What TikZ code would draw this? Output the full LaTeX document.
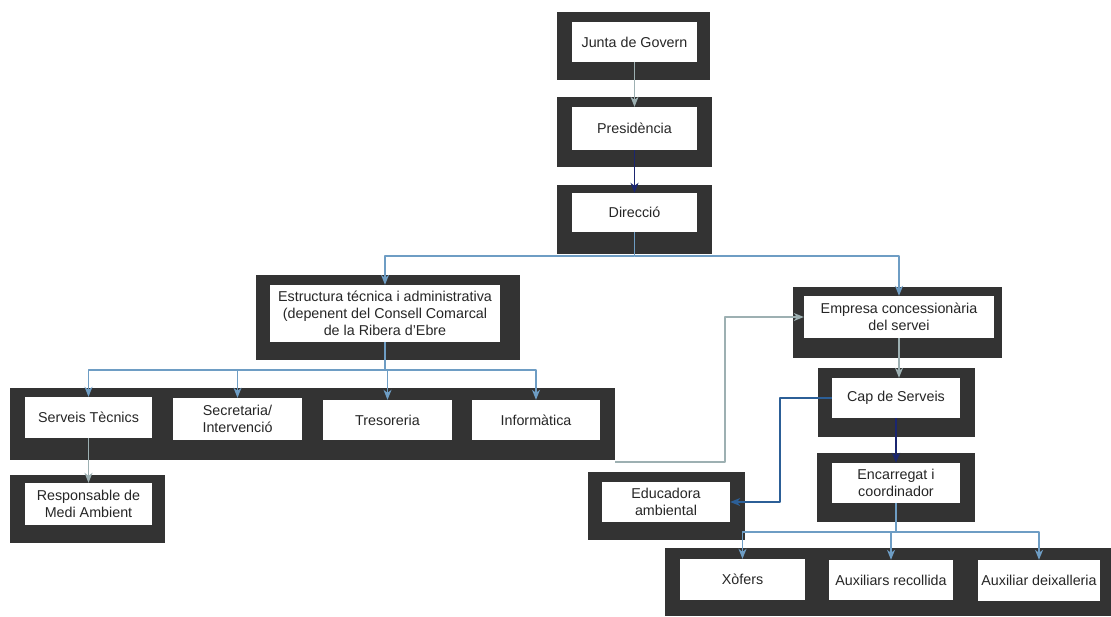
\documentclass[tikz,border=0pt]{standalone}
\usepackage{fontspec}
\setmainfont{Liberation Sans}
\usetikzlibrary{arrows.meta}
\definecolor{marc}{HTML}{333333}
\definecolor{blaucel}{HTML}{6E9DC4}
\definecolor{blaufosc}{HTML}{1B2670}
\definecolor{blaumig}{HTML}{2C5F97}
\definecolor{gristeal}{HTML}{9DB0B2}
\begin{document}
\begin{tikzpicture}[x=1pt, y=-1pt, line join=round, >={Stealth[length=10pt,width=8pt,inset=3pt]},
  caixa/.style={fill=white, inner sep=1pt, align=center, text=black!85,
    font=\fontsize{14.3}{17}\selectfont, minimum width=#1, minimum height=40pt},
  caixa/.default=128pt,
  fletxa/.style={->, line width=1.2pt, draw=blaucel},
  fletxafosca/.style={->, line width=1.2pt, draw=blaufosc},
  fletxagris/.style={->, line width=1.2pt, draw=gristeal}]
\useasboundingbox (0,0) rectangle (1111,616);
% marcs foscos
\fill[marc] (557,12) rectangle (710,80);
\fill[marc] (557,97) rectangle (712,167);
\fill[marc] (557,185) rectangle (712,254);
\fill[marc] (256,275) rectangle (520,360);
\fill[marc] (10,388) rectangle (615,460);
\fill[marc] (10,475) rectangle (165,543);
\fill[marc] (793,287) rectangle (1002,358);
\fill[marc] (818,368) rectangle (975,437);
\fill[marc] (817,453) rectangle (975,522);
\fill[marc] (588,472) rectangle (745,540);
\fill[marc] (665,548) rectangle (1111,616);
% caixes
\node[caixa=125pt] (junta) at (634.5,42) {Junta de Govern};
\node[caixa=125pt, minimum height=43pt] (pres) at (634.5,128.5) {Presidència};
\node[caixa=125pt, minimum height=39pt] (dir) at (634.5,212.5) {Direcció};
\node[caixa=230pt, minimum height=57pt] (estr) at (385,313.5) {Estructura técnica i administrativa\\(depenent del Consell Comarcal\\de la Ribera d'Ebre};
\node[caixa=127pt, minimum height=41pt] (serv) at (88.5,417.5) {Serveis Tècnics};
\node[caixa=129pt, minimum height=42pt] (secr) at (237.5,419) {Secretaria/\\Intervenció};
\node[caixa=129pt] (tres) at (387.5,420) {Tresoreria};
\node[caixa=128pt] (info) at (536,420) {Informàtica};
\node[caixa=127pt, minimum height=42pt] (resp) at (88.5,504) {Responsable de\\Medi Ambient};
\node[caixa=190pt, minimum height=42pt] (empr) at (899,317) {Empresa concessionària\\del servei};
\node[caixa] (cap) at (896,398) {Cap de Serveis};
\node[caixa] (enc) at (896,483) {Encarregat i\\coordinador};
\node[caixa] (educ) at (666,502) {Educadora\\ambiental};
\node[caixa=125pt, minimum height=41pt] (xof) at (742.5,579.5) {Xòfers};
\node[caixa=124pt] (auxr) at (891,580) {Auxiliars recollida};
\node[caixa=122pt, minimum height=41pt] (auxd) at (1039,580.5) {Auxiliar deixalleria};
% connectors
\coordinate (dirsplit) at (634.5,256);
\coordinate (estrsplit) at (385,370);
\coordinate (encsplit) at (896,532);
\coordinate (bandend) at (615,462);
\draw[fletxagris] (junta) -- (pres);
\draw[fletxafosca] (pres) -- (dir);
\draw[fletxa] (dir.south) -- (dirsplit) -| (estr.north);
\draw[fletxa] (dirsplit) -| (empr.north);
\draw[fletxa] (estr.south) -- (estrsplit) -| (serv.north);
\draw[fletxa] (estrsplit) -| (secr.north);
\draw[fletxa] (estrsplit) -| (tres.north);
\draw[fletxa] (estrsplit) -| (info.north);
\draw[fletxagris] (serv) -- (resp);
\draw[fletxagris] (bandend) -- (725,462) |- (empr.west);
\draw[fletxagris] (empr.south) -- (empr.south |- cap.north);
\draw[fletxafosca] (cap) -- (enc);
\draw[->, line width=1.2pt, draw=blaumig] (cap.west) -- (780,398) |- (educ.east);
\draw[fletxa] (enc.south) -- (encsplit) -| (xof.north);
\draw[fletxa] (encsplit) -| (auxr.north);
\draw[fletxa] (encsplit) -| (auxd.north);
\end{tikzpicture}
\end{document}
